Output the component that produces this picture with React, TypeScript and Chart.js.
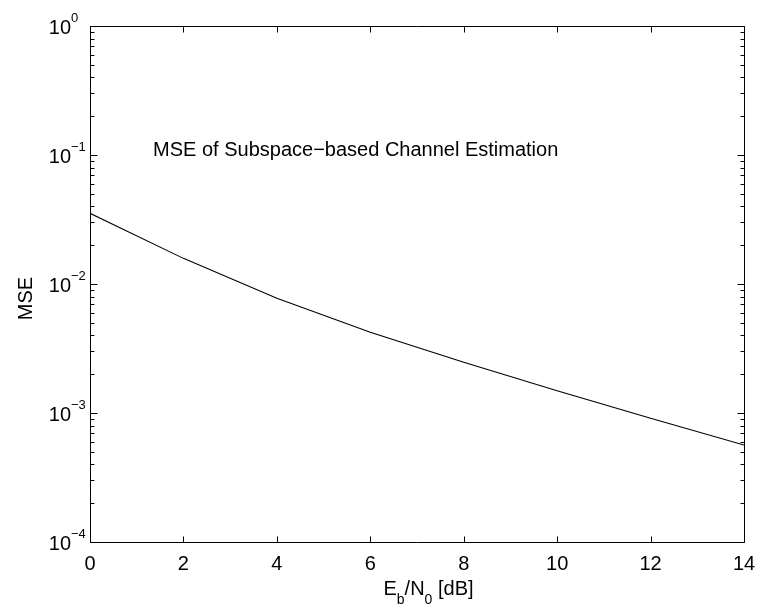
import React, { useEffect, useRef } from "react";
import { Chart, registerables } from "chart.js";

Chart.register(...registerables);

// ---- data ----
const ebn0 = [0, 2, 4, 6, 8, 10, 12, 14];
const mse = [0.0353, 0.0158, 0.00775, 0.00422, 0.00247, 0.00149, 0.00091, 0.000565];
const xTicks = [0, 2, 4, 6, 8, 10, 12, 14];
const yTickExponents = [0, -1, -2, -3, -4];
const annotationText = "MSE of Subspace\u2212based Channel Estimation";
const annotationAt = { x: 1.35, y: 0.098 };
const yTitle = "MSE";

const FONT = '"Liberation Sans", Arial, Helvetica, sans-serif';
const MAIN = 20;
const SMALL = 13;

const matlabPlugin = {
  id: "matlabAxes",
  afterDraw(chart: any) {
    const ctx = chart.ctx as CanvasRenderingContext2D;
    const { left, right, top, bottom } = chart.chartArea;
    const xs = chart.scales.x;
    const ys = chart.scales.y;
    const L = Math.round(left) + 0.5;
    const R = Math.round(right) + 0.5;
    const T = Math.round(top) + 0.5;
    const B = Math.round(bottom) + 0.5;
    ctx.save();
    ctx.strokeStyle = "#000";
    ctx.lineWidth = 1;
    ctx.beginPath();
    ctx.rect(L, T, R - L, B - T);
    ctx.stroke();

    // x ticks (inside, bottom & top)
    ctx.beginPath();
    for (const v of xTicks) {
      const px = Math.round(xs.getPixelForValue(v)) + 0.5;
      ctx.moveTo(px, B);
      ctx.lineTo(px, B - 6);
      ctx.moveTo(px, T);
      ctx.lineTo(px, T + 6);
    }
    // y major ticks
    for (const e of yTickExponents) {
      const py = Math.round(ys.getPixelForValue(Math.pow(10, e))) + 0.5;
      ctx.moveTo(L, py);
      ctx.lineTo(L + 7, py);
      ctx.moveTo(R, py);
      ctx.lineTo(R - 7, py);
    }
    // y minor ticks
    const eMin = Math.min(...yTickExponents);
    const eMax = Math.max(...yTickExponents);
    for (let e = eMin; e < eMax; e++) {
      for (let m = 2; m <= 9; m++) {
        const py = Math.round(ys.getPixelForValue(m * Math.pow(10, e))) + 0.5;
        ctx.moveTo(L, py);
        ctx.lineTo(L + 4, py);
        ctx.moveTo(R, py);
        ctx.lineTo(R - 4, py);
      }
    }
    ctx.stroke();

    ctx.fillStyle = "#000";
    ctx.textBaseline = "alphabetic";
    // x tick labels
    ctx.font = `${MAIN}px ${FONT}`;
    ctx.textAlign = "center";
    for (const v of xTicks) {
      const px = xs.getPixelForValue(v);
      ctx.fillText(String(v), px, B + 27);
    }

    // y tick labels 10^e
    for (const e of yTickExponents) {
      const py = ys.getPixelForValue(Math.pow(10, e));
      ctx.font = `${MAIN}px ${FONT}`;
      ctx.textAlign = "right";
      ctx.fillText("10", L - 19.5, py + 8);
      ctx.font = `${SMALL}px ${FONT}`;
      ctx.textAlign = "left";
      const exp = e < 0 ? "\u2212" + String(-e) : String(e);
      ctx.fillText(exp, L - 19.5, py - 4);
    }

    // annotation text
    ctx.font = `${MAIN}px ${FONT}`;
    ctx.textAlign = "left";
    ctx.fillText(annotationText, xs.getPixelForValue(annotationAt.x), ys.getPixelForValue(annotationAt.y));

    // x title: E_b/N_0 [dB]
    const parts: [string, boolean][] = [
      ["E", false],
      ["b", true],
      ["/N", false],
      ["0", true],
      [" [dB]", false],
    ];
    let total = 0;
    for (const [s, sub] of parts) {
      ctx.font = `${sub ? 14 : MAIN}px ${FONT}`;
      total += ctx.measureText(s).width;
    }
    let cx = (L + R) / 2 + 11 - total / 2;
    const baseY = B + 52;
    for (const [s, sub] of parts) {
      ctx.font = `${sub ? 14 : MAIN}px ${FONT}`;
      ctx.fillText(s, cx, sub ? baseY + 9 : baseY);
      cx += ctx.measureText(s).width;
    }

    // y title
    ctx.save();
    ctx.translate(32, (T + B) / 2 + 14);
    ctx.rotate(-Math.PI / 2);
    ctx.font = `${MAIN}px ${FONT}`;
    ctx.textAlign = "center";
    ctx.fillText(yTitle, 0, 0);
    ctx.restore();

    ctx.restore();
  },
};

export default function App() {
  const ref = useRef<HTMLCanvasElement | null>(null);
  useEffect(() => {
    document.body.style.margin = "0";
    const canvas = ref.current;
    if (!canvas) return;
    const chart = new Chart(canvas, {
      type: "line",
      data: {
        datasets: [
          {
            data: ebn0.map((x, i) => ({ x, y: mse[i] })),
            borderColor: "#000",
            borderWidth: 1.1,
            pointRadius: 0,
            fill: false,
            tension: 0,
          },
        ],
      },
      options: {
        responsive: false,
        animation: false,
        devicePixelRatio: 1,
        layout: { padding: { top: 26, right: 13, left: 0, bottom: 0 } },
        plugins: { legend: { display: false }, tooltip: { enabled: false } },
        scales: {
          x: {
            type: "linear",
            min: 0,
            max: 14,
            grid: { display: false },
            border: { display: false },
            ticks: { display: false },
            afterFit: (s: any) => {
              s.height = 64;
            },
          },
          y: {
            type: "logarithmic",
            min: 1e-4,
            max: 1,
            grid: { display: false },
            border: { display: false },
            ticks: { display: false },
            afterFit: (s: any) => {
              s.width = 90;
            },
          },
        },
      },
      plugins: [matlabPlugin],
    } as any);
    return () => chart.destroy();
  }, []);
  return (
    <div style={{ position: "absolute", left: 0, top: 0, width: 757, height: 606, background: "#fff" }}>
      <canvas ref={ref} width={757} height={606} style={{ display: "block", width: 757, height: 606 }} />
    </div>
  );
}
